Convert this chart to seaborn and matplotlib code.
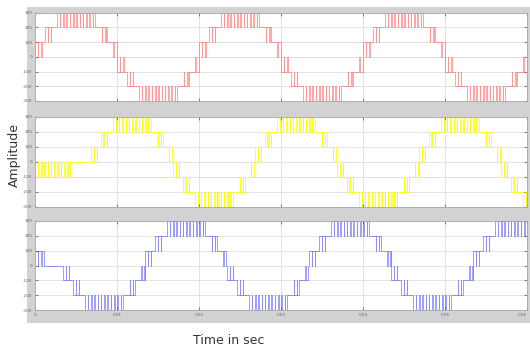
import numpy as np
import pandas as pd
import seaborn as sns
import matplotlib.pyplot as plt

# y levels of the 7-level inverter, x ticks
levels = [300, 200, 100, 0, -100, -200, -300]
time_ticks = [0, 0.01, 0.02, 0.03, 0.04, 0.05, 0.06]
time_labels = ['0', '0.01', '0.02', '0.03', '0.04', '0.05', '0.06']

# one positive half cycle: (start, end, low, high) seconds after the zero crossing
half_bands = [(0.0, 0.0008, 0, 100), (0.0008, 0.0012, 100, 100), (0.0012, 0.0022, 100, 200),
              (0.0022, 0.0027, 200, 200), (0.0027, 0.0073, 200, 300), (0.0073, 0.0078, 200, 200),
              (0.0078, 0.0088, 100, 200), (0.0088, 0.0092, 100, 100), (0.0092, 0.0100, 0, 100)]

# zero crossings of each phase
red_pos = [0.0, 0.02, 0.04]
red_neg = [0.01, 0.03, 0.05]
yellow_pos = [0.0068, 0.0268, 0.0468]
yellow_neg = [0.0168, 0.0368, 0.0568]
blue_pos = [0.0134, 0.0334, 0.0534]
blue_neg = [0.0034, 0.0234, 0.0434]

# start-up parts before the first full half cycle
red_start = []
yellow_start = [(0.0, 0.0043, -100, 0), (0.0043, 0.0068, 0, 0)]
blue_start = [(0.0, 0.0012, 0, 100), (0.0012, 0.0034, 0, 0)]

carrier = 0.0004    # switching period
dip = 0.00006       # width of each notch toward the inner level
t_end = 0.06


def build(pos, neg, start):
    segs = list(start)
    for t0 in pos:
        segs += [(t0 + a, t0 + b, lo, hi) for a, b, lo, hi in half_bands]
    for t0 in neg:
        segs += [(t0 + a, t0 + b, -hi, -lo) for a, b, lo, hi in half_bands]
    segs = sorted(s for s in segs if s[0] < t_end)
    ts, vs = [], []
    for a, b, lo, hi in segs:
        b = min(b, t_end)
        if lo == hi:
            ts += [a, b]
            vs += [lo, lo]
            continue
        outer, inner = (hi, lo) if abs(hi) >= abs(lo) else (lo, hi)
        t = a
        while t < b:
            m = min(t + carrier - dip, b)
            ts += [t, m]
            vs += [outer, outer]
            if m < b:
                n = min(m + dip, b)
                ts += [m, n]
                vs += [inner, inner]
            t += carrier
    return pd.DataFrame({'t': ts, 'v': vs})


phases = [(build(red_pos, red_neg, red_start), '#ff4040', 0.55),
          (build(yellow_pos, yellow_neg, yellow_start), '#ffff00', 1.0),
          (build(blue_pos, blue_neg, blue_start), '#3030ff', 0.55)]

sns.set_style('white')
plt.rcParams['font.family'] = ['DejaVu Sans']
fig = plt.figure(figsize=(5.3, 3.52), dpi=100)

# grey scope background
bg = fig.add_axes([27 / 530, 1 - 323 / 352, 503 / 530, 316 / 352], zorder=-1)
bg.set_facecolor('#d2d2d2')
bg.set_xticks([])
bg.set_yticks([])
for s in bg.spines.values():
    s.set_visible(False)

rows = [(12.7, 101), (117, 207), (221, 310)]
for i, ((top, bot), (df, col, alpha)) in enumerate(zip(rows, phases)):
    ax = fig.add_axes([35 / 530, 1 - bot / 352, 492 / 530, (bot - top) / 352])
    ax.set_facecolor('white')
    sns.lineplot(data=df, x='t', y='v', sort=False, estimator=None, ax=ax,
                 color=col, alpha=alpha, linewidth=0.6)
    ax.set_xlim(0, 0.06)
    ax.set_ylim(-300, 300)
    ax.set_yticks(levels)
    ax.set_yticklabels([str(l) for l in levels])
    ax.set_xticks(time_ticks)
    if i == 2:
        ax.set_xticklabels(time_labels)
        ax.get_xticklabels()[-1].set_ha('right')
    else:
        ax.set_xticklabels([])
    ax.grid(True, color='#dddddd', linewidth=0.6)
    ax.set_axisbelow(True)
    ax.tick_params(direction='in', length=2, width=0.6, colors='#666666',
                   labelsize=3, pad=2, top=True, right=True, left=True, bottom=True)
    for s in ax.spines.values():
        s.set_color('#a8a8a8')
        s.set_linewidth(0.6)
    ax.set_xlabel('')
    ax.set_ylabel('')

fig.text(14 / 530, 1 - 155 / 352, 'Amplitude', rotation=90, ha='center', va='center',
         fontsize=9, color='#333333')
fig.text(229 / 530, 1 - 340 / 352, 'Time in sec', ha='center', va='center',
         fontsize=9, color='#333333')

fig.savefig('out.png', dpi=100)
